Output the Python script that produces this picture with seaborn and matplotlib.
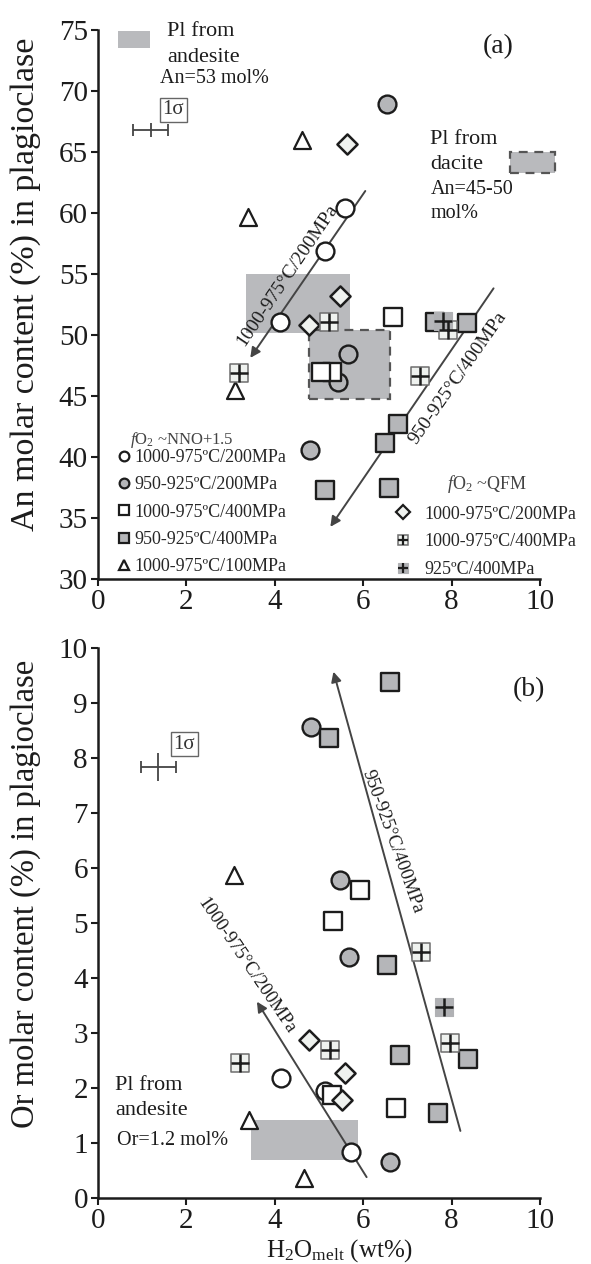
import matplotlib
matplotlib.use("Agg")
import matplotlib.pyplot as plt
import numpy as np
import pandas as pd
import seaborn as sns
from matplotlib.lines import Line2D
from matplotlib.patches import Rectangle
from matplotlib.legend_handler import HandlerTuple

# ---------------- data ----------------
# series keys
SERIES = ["nno_1000_200", "nno_950_200", "nno_1000_400", "nno_950_400",
          "nno_1000_100", "qfm_1000_200", "qfm_1000_400", "qfm_925_400"]
LABELS = ["1000-975ºC/200MPa", "950-925ºC/200MPa", "1000-975ºC/400MPa",
          "950-925ºC/400MPa", "1000-975ºC/100MPa",
          "1000-975ºC/200MPa", "1000-975ºC/400MPa", "925ºC/400MPa"]

# Panel (a): H2O melt (wt%) and An (mol%)
a_nno_1000_200_h2o = [5.60, 5.15, 4.12]
a_nno_1000_200_an = [60.4, 56.9, 51.1]
a_nno_950_200_h2o = [6.55, 4.81, 5.67, 5.44]
a_nno_950_200_an = [69.0, 40.6, 48.5, 46.2]
a_nno_1000_400_h2o = [6.68, 5.30, 5.05]
a_nno_1000_400_an = [51.5, 47.0, 47.0]
a_nno_950_400_h2o = [6.80, 6.50, 6.58, 5.15, 7.63, 8.35]
a_nno_950_400_an = [42.7, 41.2, 37.5, 37.3, 51.1, 51.0]
a_nno_1000_100_h2o = [4.61, 3.39, 3.10]
a_nno_1000_100_an = [66.0, 59.7, 45.5]
a_qfm_1000_200_h2o = [5.63, 5.48, 4.78]
a_qfm_1000_200_an = [65.7, 53.2, 50.85]
a_qfm_1000_400_h2o = [5.24, 3.20, 7.29, 7.93]
a_qfm_1000_400_an = [51.1, 46.9, 46.7, 50.4]
a_qfm_925_400_h2o = [7.80]
a_qfm_925_400_an = [51.2]

# Panel (b): H2O melt (wt%) and Or (mol%)
b_nno_1000_200_h2o = [4.14, 5.14, 5.72]
b_nno_1000_200_or = [2.19, 1.95, 0.84]
b_nno_950_200_h2o = [4.82, 5.48, 5.69, 6.61]
b_nno_950_200_or = [8.57, 5.78, 4.39, 0.65]
b_nno_1000_400_h2o = [5.93, 5.33, 5.29, 6.74]
b_nno_1000_400_or = [5.60, 5.04, 1.87, 1.63]
b_nno_950_400_h2o = [6.60, 5.23, 6.54, 6.84, 8.38, 7.69]
b_nno_950_400_or = [9.39, 8.36, 4.24, 2.60, 2.53, 1.54]
b_nno_1000_100_h2o = [3.08, 3.42, 4.67]
b_nno_1000_100_or = [5.87, 1.42, 0.36]
b_qfm_1000_200_h2o = [4.78, 5.60, 5.52]
b_qfm_1000_200_or = [2.87, 2.28, 1.78]
b_qfm_1000_400_h2o = [7.31, 7.97, 5.26, 3.22]
b_qfm_1000_400_or = [4.48, 2.81, 2.69, 2.46]
b_qfm_925_400_h2o = [7.83]
b_qfm_925_400_or = [3.48]

# natural plagioclase ranges (x-range, y-range)
andesite_a_h2o = [3.36, 5.70]
andesite_a_an = [50.2, 55.0]
dacite_a_h2o = [4.78, 6.61]
dacite_a_an = [44.8, 50.4]
andesite_b_h2o = [3.47, 5.89]
andesite_b_or = [0.69, 1.42]

# trend arrows (tail -> head)
arrow_a1 = [(6.05, 61.83), (3.45, 48.15)]
arrow_a2 = [(8.95, 53.85), (5.26, 34.30)]
arrow_b1 = [(6.08, 0.38), (3.60, 3.57)]
arrow_b2 = [(8.20, 1.22), (5.33, 9.57)]

# 1-sigma error crosses: centre, x error, y error
sigma_a = [1.20, 66.84, 0.40, 0.59]
sigma_b = [1.37, 7.84, 0.40, 0.26]


def build(prefix, yname):
    frames = []
    g = globals()
    for key in SERIES:
        xs = g[f"{prefix}_{key}_h2o"]
        ys = g[f"{prefix}_{key}_{yname}"]
        frames.append(pd.DataFrame({"h2o": xs, "val": ys, "series": key}))
    return pd.concat(frames, ignore_index=True)


df_a = build("a", "an")
df_b = build("b", "or")

# ---------------- style ----------------
sns.set_theme(style="ticks")
plt.rcParams["font.family"] = ["Liberation Serif", "DejaVu Serif"]
plt.rcParams["mathtext.fontset"] = "custom"
plt.rcParams["mathtext.rm"] = "Liberation Serif"
plt.rcParams["mathtext.it"] = "Liberation Serif:italic"
plt.rcParams["mathtext.bf"] = "Liberation Serif:bold"

INK = "#1c1c1c"
GRAY = "#b5b6b9"
LIGHT = "#eff2ef"
BOXGRAY = "#b9babd"

STYLE = {
    "nno_1000_200": dict(marker="o", s=165, fc="white", ec=INK, lw=1.7, z=5),
    "nno_950_200": dict(marker="o", s=165, fc=GRAY, ec=INK, lw=1.7, z=5),
    "nno_1000_400": dict(marker="s", s=150, fc="white", ec=INK, lw=1.7, z=6),
    "nno_950_400": dict(marker="s", s=150, fc=GRAY, ec=INK, lw=1.7, z=6),
    "nno_1000_100": dict(marker="^", s=150, fc="white", ec=INK, lw=1.6, z=6),
    "qfm_1000_200": dict(marker="D", s=105, fc=LIGHT, ec=INK, lw=1.8, z=7),
    "qfm_1000_400": dict(marker="s", s=150, fc=LIGHT, ec="#6e6e6e", lw=1.1, z=7, cross=True),
    "qfm_925_400": dict(marker="s", s=150, fc="#b0b1b4", ec="#b0b1b4", lw=0.8, z=7, cross=True),
}


def draw_series(ax, df):
    for key in SERIES:
        st = STYLE[key]
        sub = df[df["series"] == key]
        sns.scatterplot(data=sub, x="h2o", y="val", ax=ax, legend=False,
                        marker=st["marker"], s=st["s"], color=st["fc"],
                        edgecolor=st["ec"], linewidth=st["lw"], zorder=st["z"],
                        clip_on=False)
        if st.get("cross"):
            sns.scatterplot(data=sub, x="h2o", y="val", ax=ax, legend=False,
                            marker="+", s=st["s"], color=INK, linewidth=1.8,
                            zorder=st["z"] + 0.1, clip_on=False)


def style_axes(ax, ylim, yticks):
    ax.set_xlim(0, 10)
    ax.set_ylim(*ylim)
    ax.set_xticks([0, 2, 4, 6, 8, 10])
    ax.set_yticks(yticks)
    for side in ("top", "right"):
        ax.spines[side].set_visible(False)
    for side in ("left", "bottom"):
        ax.spines[side].set_linewidth(1.8)
        ax.spines[side].set_color(INK)
    ax.tick_params(direction="out", length=5, width=1.5, color=INK,
                   labelsize=21, pad=2, labelcolor=INK)
    ax.set_xlabel("")
    ax.set_ylabel("")


def arrow(ax, pts):
    (x0, y0), (x1, y1) = pts
    ax.annotate("", xy=(x1, y1), xytext=(x0, y0),
                arrowprops=dict(arrowstyle="-|>", color="#444444", lw=1.4,
                                mutation_scale=15, shrinkA=0, shrinkB=0),
                zorder=3)


def sigma(ax, vals, box_xy):
    x, y, ex, ey = vals
    ax.errorbar([x], [y], xerr=[ex], fmt="none", ecolor="#444444",
                elinewidth=1.3, capsize=4, capthick=1.3, clip_on=False)
    ax.errorbar([x], [y], yerr=[ey], fmt="none", ecolor="#444444",
                elinewidth=1.3, capsize=0, clip_on=False)
    ax.text(box_xy[0], box_xy[1], "1σ", fontsize=15, ha="center", va="center",
            color="#333333",
            bbox=dict(boxstyle="square,pad=0.12", fc="white", ec="#666666", lw=1.0))


def handle(key, ms):
    st = STYLE[key]
    h = Line2D([], [], linestyle="none", marker=st["marker"], markersize=ms,
               markerfacecolor=st["fc"], markeredgecolor=st["ec"],
               markeredgewidth=min(st["lw"], 1.6))
    if st.get("cross"):
        h2 = Line2D([], [], linestyle="none", marker="+", markersize=ms,
                    color=INK, markeredgewidth=1.6)
        return (h, h2)
    return h


fig = plt.figure(figsize=(5.91, 12.64), dpi=100)
ax1 = fig.add_axes([0.1653, 0.5417, 0.7484, 0.4343])
ax2 = fig.add_axes([0.1653, 0.0522, 0.7484, 0.4351])

# ---------------- panel (a) ----------------
ax1.add_patch(Rectangle((andesite_a_h2o[0], andesite_a_an[0]),
                        andesite_a_h2o[1] - andesite_a_h2o[0],
                        andesite_a_an[1] - andesite_a_an[0],
                        fc=BOXGRAY, ec="none", zorder=1))
ax1.add_patch(Rectangle((dacite_a_h2o[0], dacite_a_an[0]),
                        dacite_a_h2o[1] - dacite_a_h2o[0],
                        dacite_a_an[1] - dacite_a_an[0],
                        fc=BOXGRAY, ec="#555555", lw=1.6, ls=(0, (4, 3)), zorder=1.5))
draw_series(ax1, df_a)
style_axes(ax1, (30, 75), np.arange(30, 76, 5))
arrow(ax1, arrow_a1)
arrow(ax1, arrow_a2)
ax1.text(4.29, 54.9, "1000-975°C/200MPa", fontsize=14, rotation=56,
         rotation_mode="anchor", ha="center", va="center", color=INK, zorder=4)
ax1.text(8.14, 46.5, "950-925°C/400MPa", fontsize=14, rotation=55,
         rotation_mode="anchor", ha="center", va="center", color=INK, zorder=4)
sigma(ax1, sigma_a, (1.71, 68.47))

# andesite swatch + text
ax1.add_patch(Rectangle((0.47, 73.57), 0.72, 1.36, fc=BOXGRAY, ec="none",
                        clip_on=False, zorder=1))
ax1.text(1.57, 74.53, "Pl from", fontsize=16, va="baseline", color=INK)
ax1.text(1.57, 72.43, "andesite", fontsize=16, va="baseline", color=INK)
ax1.text(1.42, 70.7, "An=53 mol%", fontsize=14.5, va="baseline", color=INK)
# dacite text + swatch
ax1.text(7.52, 65.68, "Pl from", fontsize=16, va="baseline", color=INK)
ax1.text(7.52, 63.63, "dacite", fontsize=16, va="baseline", color=INK)
ax1.text(7.52, 61.56, "An=45-50", fontsize=14.5, va="baseline", color=INK)
ax1.text(7.52, 59.59, "mol%", fontsize=14.5, va="baseline", color=INK)
ax1.add_patch(Rectangle((9.33, 63.3), 1.02, 1.7, fc=BOXGRAY, ec="#555555",
                        lw=1.6, ls=(0, (4, 3)), clip_on=False, zorder=1))
ax1.text(9.06, 73.65, "(a)", fontsize=20, ha="center", va="center", color=INK)

ax1.set_ylabel("An molar content (%) in plagioclase", fontsize=24.5, color=INK)
ax1.yaxis.set_label_coords(-0.128, 0.538)

hm = {tuple: HandlerTuple(ndivide=1)}
# legend for fO2 ~ NNO+1.5 (title as separate text for tighter spacing)
ax1.text(0.73, 41.1, r"$f$O$_2$ ~NNO+1.5", fontsize=12, va="baseline",
         color="#444444")
leg1 = ax1.legend(handles=[handle(k, 7) for k in SERIES[:5]], labels=LABELS[:5],
                  loc="upper left", bbox_to_anchor=(0.047, 0.237),
                  frameon=False, borderpad=0, borderaxespad=0,
                  handlelength=0.6, handletextpad=0.3, labelspacing=0.57,
                  prop={"size": 13}, handler_map=hm)
ax1.add_artist(leg1)
leg2 = ax1.legend(handles=[handle(k, 7) for k in SERIES[5:]], labels=LABELS[5:],
                  title=r"$f$O$_2$ ~QFM", loc="upper left",
                  bbox_to_anchor=(0.678, 0.194), frameon=False, borderpad=0,
                  borderaxespad=0, handlelength=0.6, handletextpad=0.9,
                  labelspacing=0.6, prop={"size": 13},
                  title_fontproperties={"size": 13}, alignment="center",
                  handler_map=hm)
leg2.get_title().set_color("#444444")
leg2.set_clip_on(False)

# ---------------- panel (b) ----------------
ax2.add_patch(Rectangle((andesite_b_h2o[0], andesite_b_or[0]),
                        andesite_b_h2o[1] - andesite_b_h2o[0],
                        andesite_b_or[1] - andesite_b_or[0],
                        fc=BOXGRAY, ec="none", zorder=1))
draw_series(ax2, df_b)
style_axes(ax2, (0, 10), np.arange(0, 11, 1))
arrow(ax2, arrow_b1)
arrow(ax2, arrow_b2)
ax2.text(3.37, 4.22, "1000-975°C/200MPa", fontsize=13.5, rotation=-55.7,
         rotation_mode="anchor", ha="center", va="center", color=INK, zorder=4)
ax2.text(6.67, 6.49, "950-925°C/400MPa", fontsize=13.5, rotation=-70.1,
         rotation_mode="anchor", ha="center", va="center", color=INK, zorder=4)
sigma(ax2, sigma_b, (1.96, 8.25))
ax2.text(9.74, 9.24, "(b)", fontsize=20, ha="center", va="center", color=INK)
ax2.text(0.39, 1.96, "Pl from", fontsize=16, va="baseline", color=INK)
ax2.text(0.39, 1.51, "andesite", fontsize=16, va="baseline", color=INK)
ax2.text(0.44, 0.96, "Or=1.2 mol%", fontsize=14.5, va="baseline", color=INK)

ax2.set_ylabel("Or molar content (%) in plagioclase", fontsize=23.5, color=INK)
ax2.yaxis.set_label_coords(-0.128, 0.553)
ax2.set_xlabel(r"H$_2$O$_{\rm melt}$ (wt%)", fontsize=18, color=INK)
ax2.xaxis.set_label_coords(0.548, -0.072)

fig.savefig("out.png", dpi=100)
